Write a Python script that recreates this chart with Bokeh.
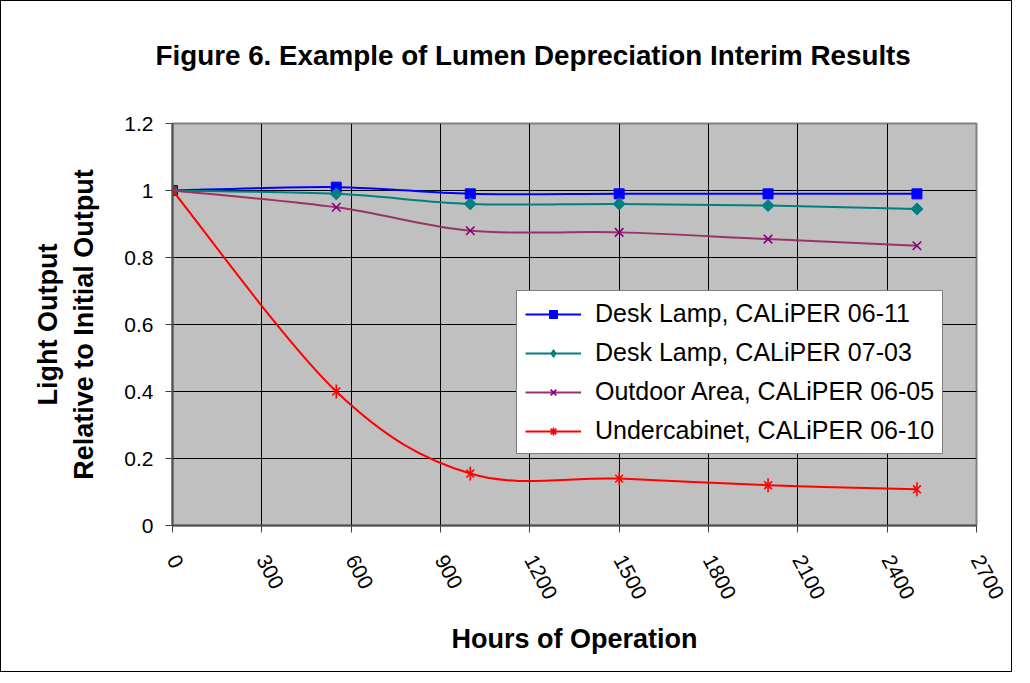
import numpy as np
from bokeh.plotting import figure
from bokeh.models import (Range1d, FixedTicker, CustomJSTickFormatter, Legend,
                          LegendItem, Title)
from bokeh.embed import file_html
from bokeh.resources import INLINE

# ---------------- data ----------------
hours = [0, 550, 1000, 1500, 2000, 2500]
desk_lamp_06_11 = [1.00, 1.01, 0.99, 0.99, 0.99, 0.99]
desk_lamp_07_03 = [1.00, 0.99, 0.96, 0.96, 0.955, 0.945]
outdoor_area_06_05 = [1.00, 0.95, 0.88, 0.875, 0.855, 0.835]
undercabinet_06_10 = [1.00, 0.40, 0.155, 0.14, 0.12, 0.108]

series_names = ["Desk Lamp, CALiPER 06-11",
                "Desk Lamp, CALiPER 07-03",
                "Outdoor Area, CALiPER 06-05",
                "Undercabinet, CALiPER 06-10"]
x_ticks = [0, 300, 600, 900, 1200, 1500, 1800, 2100, 2400, 2700]
y_ticks = [0, 0.2, 0.4, 0.6, 0.8, 1, 1.2]
title_text = "Figure 6. Example of Lumen Depreciation Interim Results"
x_label = "Hours of Operation"
y_label = "Light Output\nRelative to Initial Output"

FONT = "Liberation Sans"


def smooth_segments(xs, ys):
    """Bezier control points for a smoothed line through the data points."""
    x = np.asarray(xs, float)
    y = np.asarray(ys, float)
    n = len(x)
    xp = np.concatenate([[x[0]], x, [x[-1]]])
    yp = np.concatenate([[y[0]], y, [y[-1]]])
    return dict(
        x0=x[:-1], y0=y[:-1], x1=x[1:], y1=y[1:],
        cx0=x[:-1] + (xp[2:n + 1] - xp[0:n - 1]) / 6.0,
        cy0=y[:-1] + (yp[2:n + 1] - yp[0:n - 1]) / 6.0,
        cx1=x[1:] - (xp[3:n + 2] - xp[1:n]) / 6.0,
        cy1=y[1:] - (yp[3:n + 2] - yp[1:n]) / 6.0,
    )


p = figure(width=1012, height=672,
           x_range=Range1d(0, 2700), y_range=Range1d(0, 1.2),
           output_backend="svg", toolbar_location=None,
           min_border_left=171, min_border_right=37,
           min_border_top=122, min_border_bottom=148)
p.styles = {"border": "1px solid black"}
p.background_fill_color = "#C0C0C0"
p.border_fill_color = "white"
p.outline_line_color = "#808080"
p.outline_line_width = 2

# title: a spacer title next to the frame, then the real title above it
p.add_layout(Title(text=" ", text_font_size="10px", standoff=35), "above")
p.add_layout(Title(text=title_text, align="left", offset=-17,
                   text_font=FONT, text_font_size="27.8px",
                   text_font_style="bold", text_color="black",
                   standoff=10), "above")

# grid
p.xgrid.ticker = FixedTicker(ticks=x_ticks)
p.ygrid.ticker = FixedTicker(ticks=y_ticks)
for g in (p.xgrid, p.ygrid):
    g.grid_line_color = "#000000"
    g.grid_line_width = 1

# axes
p.xaxis.ticker = FixedTicker(ticks=x_ticks)
p.yaxis.ticker = FixedTicker(ticks=y_ticks)
p.yaxis.formatter = CustomJSTickFormatter(code="return tick.toString();")
for ax in (p.xaxis, p.yaxis):
    ax.axis_line_color = "#505050"
    ax.axis_line_width = 2
    ax.major_tick_line_color = "#404040"
    ax.major_tick_out = 7
    ax.major_tick_in = 0
    ax.minor_tick_line_color = None
    ax.major_label_text_font = FONT
    ax.major_label_text_font_size = "21px"
    ax.major_label_text_color = "black"
    ax.axis_label_text_font = FONT
    ax.axis_label_text_font_size = "27px"
    ax.axis_label_text_font_style = "bold"
    ax.axis_label_text_color = "black"
p.yaxis.major_label_standoff = 12
p.yaxis.axis_label = y_label
p.yaxis.axis_label_standoff = 22
p.xaxis.major_label_orientation = -62 * np.pi / 180
p.xaxis.major_label_standoff = 24
p.xaxis.axis_label = x_label
p.xaxis.axis_label_standoff = 17

series = [desk_lamp_06_11, desk_lamp_07_03, outdoor_area_06_05, undercabinet_06_10]
line_colors = ["#0000FF", "#008080", "#993366", "#FF0000"]
marker_colors = ["#0000FF", "#008080", "#800080", "#FF0000"]
NAN = [np.nan, np.nan]

items = []
for i, (vals, name) in enumerate(zip(series, series_names)):
    seg = smooth_segments(hours, vals)
    p.bezier(line_color=line_colors[i], line_width=2, **seg)
    # legend-only sample glyphs (no data points drawn in the plot)
    leg_line = p.line(x=NAN, y=NAN, line_color=line_colors[i], line_width=2)
    mc = marker_colors[i]
    if i == 0:
        p.scatter(hours, vals, marker="square", size=10, fill_color=mc, line_color=mc)
        leg_mark = p.scatter(NAN, NAN, marker="square", size=10, fill_color=mc, line_color=mc)
    elif i == 1:
        p.scatter(hours, vals, marker="square", size=8.5, angle=np.pi / 4,
                  fill_color=mc, line_color=mc)
        leg_mark = p.scatter(NAN, NAN, marker="diamond", size=15, fill_color=mc, line_color=mc)
    elif i == 2:
        p.scatter(hours, vals, marker="x", size=12, line_width=1.6, line_color=mc)
        leg_mark = p.scatter(NAN, NAN, marker="x", size=12, line_width=1.6, line_color=mc)
    else:
        p.scatter(hours, vals, marker="x", size=11, line_width=1.6, line_color=mc)
        p.scatter(hours, vals, marker="dash", size=14, angle=np.pi / 2,
                  line_width=1.6, line_color=mc)
        leg_mark = p.scatter(NAN, NAN, marker="asterisk", size=13, line_width=1.6, line_color=mc)
    items.append(LegendItem(label=name, renderers=[leg_line, leg_mark]))

legend = Legend(items=items, location=(344, 71), orientation="vertical",
                border_line_color="black", border_line_width=1,
                background_fill_color="white", background_fill_alpha=1,
                label_text_font=FONT, label_text_font_size="25px",
                label_text_color="black",
                glyph_width=56, glyph_height=20, label_height=20,
                label_standoff=14, spacing=10, padding=8, margin=0)
p.add_layout(legend, "center")

open("out.html", "w").write(file_html(p, INLINE))
